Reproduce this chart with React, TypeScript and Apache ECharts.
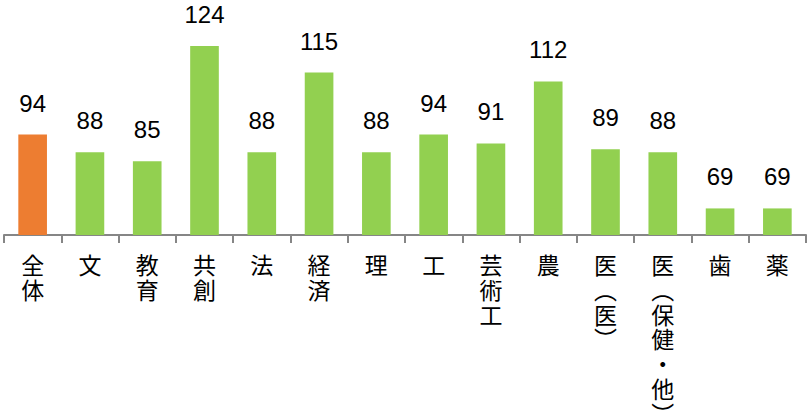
import React, { useEffect, useRef } from "react";
import * as echarts from "echarts";

const categories = ["全体", "文", "教育", "共創", "法", "経済", "理", "工", "芸術工", "農", "医（医）", "医（保健・他）", "歯", "薬"];
const values = [94, 88, 85, 124, 88, 115, 88, 94, 91, 112, 89, 88, 69, 69];
const highlightIndex = 0;
const ORANGE = "#ED7D31";
const GREEN = "#92D050";
const LABEL_FONT = '"Liberation Sans", "Noto Sans CJK JP", sans-serif';
const NUM_FONT = '"Liberation Sans", "Noto Sans", sans-serif';

function toVertical(s: string): string {
  return Array.from(s.replace(/（/g, "︵").replace(/）/g, "︶")).join("\n");
}

export default function App() {
  const ref = useRef<HTMLDivElement>(null);
  useEffect(() => {
    if (!ref.current) return;
    const chart = echarts.init(ref.current, null, { renderer: "svg" });
    chart.setOption({
      animation: false,
      grid: {
        left: 4,
        right: 3,
        top: 28.3,
        bottom: 180,
        containLabel: false,
        outerBoundsMode: "none",
      },
      xAxis: {
        type: "category",
        data: categories,
        axisLine: { show: true, lineStyle: { color: "#868686", width: 2 } },
        axisTick: { show: true, length: 8, lineStyle: { color: "#868686", width: 2 } },
        axisLabel: {
          interval: 0,
          margin: 19,
          color: "#000",
          fontFamily: LABEL_FONT,
          fontSize: 23,
          lineHeight: 24.7,
          verticalAlign: "top",
          formatter: (v: string) => toVertical(v),
        },
      },
      yAxis: {
        type: "value",
        min: 60,
        max: 130,
        show: false,
        splitLine: { show: false },
      },
      series: [
        {
          type: "bar",
          barWidth: "50%",
          data: values.map((v, i) => ({
            value: v,
            itemStyle: { color: i === highlightIndex ? ORANGE : GREEN },
          })),
          label: {
            show: true,
            position: "top",
            distance: 19.5,
            color: "#000",
            fontFamily: NUM_FONT,
            fontSize: 24,
            lineHeight: 24,
          },
        },
      ],
    });
    return () => chart.dispose();
  }, []);
  return (
    <div
      ref={ref}
      style={{ position: "fixed", left: 0, top: 0, width: 809, height: 415, background: "#fff" }}
    />
  );
}
